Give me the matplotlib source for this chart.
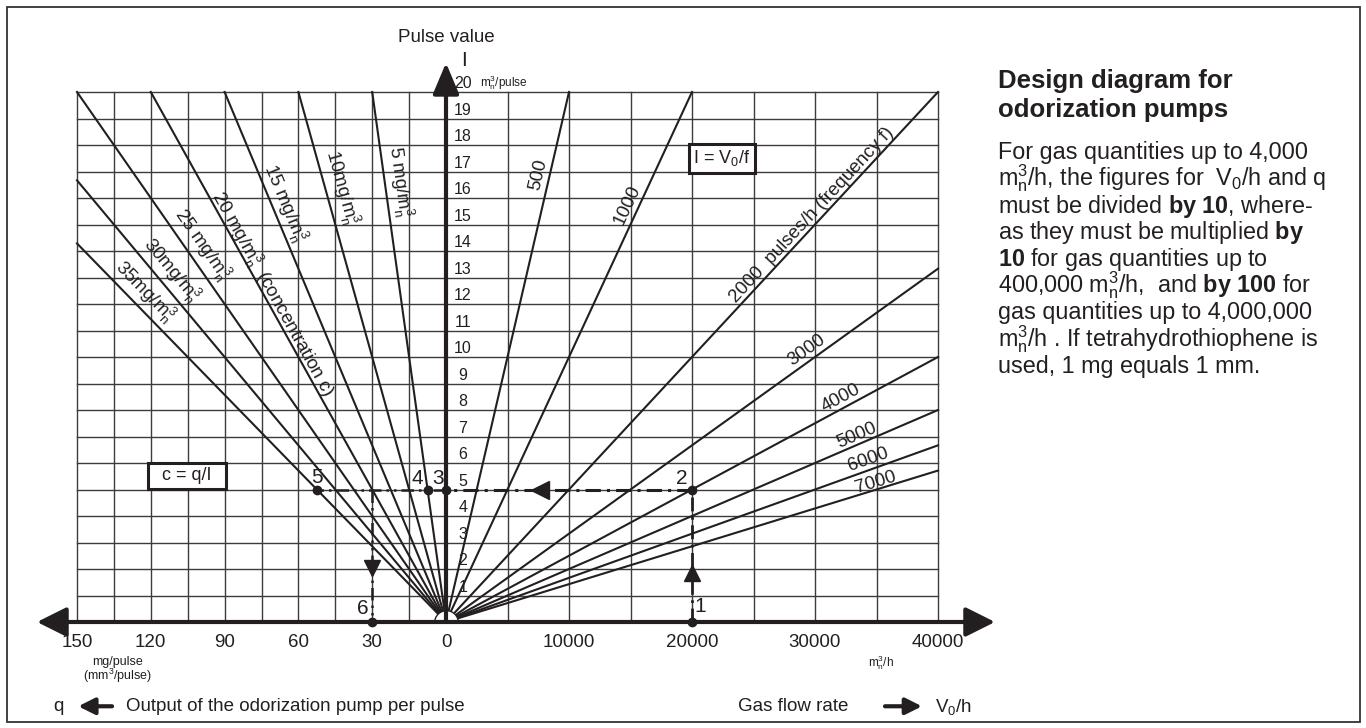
import numpy as np
import matplotlib.pyplot as plt
from matplotlib.path import Path
from matplotlib.patches import Rectangle

plt.rcParams['font.family'] = ['Liberation Sans', 'DejaVu Sans']
plt.rcParams['mathtext.fontset'] = 'custom'
plt.rcParams['mathtext.rm'] = 'Liberation Sans'
plt.rcParams['mathtext.it'] = 'Liberation Sans:italic'
plt.rcParams['mathtext.bf'] = 'Liberation Sans:bold'

INK = '#231f20'
GRID = '#3c3c3c'
M3N = r'm$_\mathrm{n}^\mathrm{3}$'

# concentration lines (left half): c in mg/m3n, q where line would reach I = 20
conc = [5, 10, 15, 20, 25, 30, 35]
q_at_top = [30, 60, 90, 120, 150, 180, 210]
conc_labels = ['5 mg/' + M3N, '10mg/' + M3N, '15 mg/' + M3N,
               '20 mg/' + M3N + '  (concentration c)', '25 mg/' + M3N,
               '30mg/' + M3N, '35mg/' + M3N]
conc_label_pos = [(-3821, 16.6), (-8537, 16.38), (-13171, 15.81), (-14146, 12.38),
                  (-19837, 14.23), (-22358, 13.28), (-24472, 12.45)]

# frequency lines (right half): I = V0 / f
freq = [500, 1000, 2000, 3000, 4000, 5000, 6000, 7000]
freq_labels = ['500', '1000', '2000  pulses/h (frequency f)', '3000', '4000',
               '5000', '6000', '7000']
freq_label_pos = [(7480, 16.87), (14715, 15.74), (29756, 15.36), (29350, 10.26),
                  (32114, 8.45), (33415, 7.02), (34309, 6.11), (34959, 5.25)]

q_ticks = [150, 120, 90, 60, 30]
v_ticks = [10000, 20000, 30000, 40000]
i_ticks = list(range(1, 21))

# worked example
ex_flow = 20000
ex_pulse = 5
ex_q4, ex_q5, ex_q6 = 7.5, 52.5, 30

Q_SCALE = 200          # 1 mg/pulse drawn as 200 m3/h on the shared x axis
Q_MAX, V_MAX, I_MAX = 150, 40000, 20


def qx(q):
    return -Q_SCALE * q


fig = plt.figure(figsize=(13.66, 7.28), dpi=100)
ax = fig.add_axes([0, 0, 1, 1])
ax.set_xlim(-446 / 12.3 * 1000, 920 / 12.3 * 1000)
ax.set_ylim(-106 / 26.5, 622 / 26.5)
ax.axis('off')

# frame
fig.patches.append(Rectangle((6.5 / 1366, 6.5 / 728), 1353 / 1366, 715 / 728,
                             transform=fig.transFigure, fill=False,
                             edgecolor='#333333', lw=1.3))

# grid
for i in range(1, I_MAX + 1):
    ax.plot([qx(Q_MAX), V_MAX], [i, i], color=GRID, lw=1.0, zorder=1)
for q in range(0, Q_MAX + 1, 15):
    ax.plot([qx(q), qx(q)], [0, I_MAX], color=GRID, lw=1.0, zorder=1)
for v in range(5000, V_MAX + 1, 5000):
    ax.plot([v, v], [0, I_MAX], color=GRID, lw=1.0, zorder=1)


def angle_of(x0, y0, x1, y1):
    p0 = ax.transData.transform((x0, y0))
    p1 = ax.transData.transform((x1, y1))
    return np.degrees(np.arctan2(p1[1] - p0[1], p1[0] - p0[0]))


# concentration lines
for c, qt, lab, (lx, ly) in zip(conc, q_at_top, conc_labels, conc_label_pos):
    t = min(1.0, Q_MAX / qt)
    xe, ye = qx(qt * t), I_MAX * t
    ax.plot([0, xe], [0, ye], color=INK, lw=1.5, zorder=2)
    rot = angle_of(xe, ye, 0, 0)
    ax.text(lx, ly, lab, rotation=rot, rotation_mode='anchor', ha='center',
            va='center', fontsize=13.5, color=INK)

# frequency lines
for f, lab, (lx, ly) in zip(freq, freq_labels, freq_label_pos):
    vt = I_MAX * f
    t = min(1.0, V_MAX / vt)
    xe, ye = vt * t, I_MAX * t
    ax.plot([0, xe], [0, ye], color=INK, lw=1.5, zorder=2)
    rot = angle_of(0, 0, xe, ye)
    ax.text(lx, ly, lab, rotation=rot, rotation_mode='anchor', ha='center',
            va='center', fontsize=13.5, color=INK)

# half disc at origin
ax.plot(0, 0, marker=Path.wedge(0, 180), ms=17, mfc='white', mec=INK, mew=1.0,
        zorder=4)

# main axes with arrows
ax.annotate('', xy=(-33252, 0), xytext=(44634, 0),
            arrowprops=dict(arrowstyle='<|-|>,head_length=0.9,head_width=0.45',
                            mutation_scale=20, lw=3, color=INK,
                            shrinkA=0, shrinkB=0), zorder=5)
ax.annotate('', xy=(0, 21.1), xytext=(0, 0),
            arrowprops=dict(arrowstyle='-|>,head_length=0.95,head_width=0.4',
                            mutation_scale=20, lw=3, color=INK,
                            shrinkA=0, shrinkB=0), zorder=5)

# tick labels
for i in i_ticks:
    ax.text(1380, i + 0.32, str(i), ha='center', va='center', fontsize=11.5,
            color=INK, zorder=6)
ax.text(2764, 20.34, M3N + '/pulse', ha='left', va='center', fontsize=8.5, color=INK)
for q in q_ticks:
    ax.text(qx(q), -0.79, str(q), ha='center', va='center', fontsize=13.5, color=INK)
ax.text(0, -0.79, '0', ha='center', va='center', fontsize=13.5, color=INK)
for v in v_ticks:
    ax.text(v, -0.79, str(v), ha='center', va='center', fontsize=13.5, color=INK)

ax.text(-26667, -1.5, 'mg/pulse', ha='center', va='center', fontsize=9, color=INK)
ax.text(-26667, -2.04, '(mm$^\\mathrm{3}$/pulse)', ha='center', va='center',
        fontsize=9, color=INK)
ax.text(35366, -1.55, M3N + '/h', ha='center', va='center', fontsize=8.5, color=INK)

ax.text(0, 22.05, 'Pulse value', ha='center', va='center', fontsize=13.5, color=INK)
ax.text(1463, 21.2, 'I', ha='center', va='center', fontsize=15, color=INK)

# formula boxes
ax.text(22439, 17.5, 'I = V$_\\mathrm{0}$/f', ha='center', va='center', fontsize=13,
        color=INK, bbox=dict(boxstyle='square,pad=0.25', fc='white', ec=INK, lw=2.2))
ax.text(-21057, 5.52, '  c = q/I  ', ha='center', va='center', fontsize=13,
        color=INK, bbox=dict(boxstyle='square,pad=0.25', fc='white', ec=INK, lw=2.2))

# worked example path 1 -> 2 -> 3 -> 4 -> 5, then down to 6
ax.plot([ex_flow, ex_flow], [0, ex_pulse], color=INK, lw=2,
        ls=(0, (5, 2, 1, 2)), zorder=3)
ax.plot([ex_flow, 0], [ex_pulse, ex_pulse], color=INK, lw=2.2,
        ls=(0, (5, 2, 1, 2)), zorder=3)
ax.plot([0, qx(ex_q5)], [ex_pulse, ex_pulse], color=INK, lw=1.8,
        ls=(0, (5, 2, 1, 2, 1, 2)), zorder=3)
ax.plot([qx(ex_q6), qx(ex_q6)], [ex_pulse, 0], color=INK, lw=1.8,
        ls=(0, (5, 2, 1, 2, 1, 2)), zorder=3)

ax.plot(ex_flow, 1.85, marker='^', ms=12, color=INK, zorder=4)
ax.plot(7640, ex_pulse, marker='<', ms=13, color=INK, zorder=4)
ax.plot(qx(ex_q6), 2.05, marker='v', ms=12, color=INK, zorder=4)

pts_x = [ex_flow, ex_flow, 0, qx(ex_q4), qx(ex_q5), qx(ex_q6)]
pts_y = [0, ex_pulse, ex_pulse, ex_pulse, ex_pulse, 0]
ax.plot(pts_x, pts_y, 'o', ms=6, color=INK, zorder=6)

pt_labels = ['1', '2', '3', '4', '5', '6']
pt_label_pos = [(20650, 0.57), (19150, 5.4), (-650, 5.4), (-2350, 5.4),
                (-10500, 5.45), (-6800, 0.5)]
for lab, (lx, ly) in zip(pt_labels, pt_label_pos):
    ax.text(lx, ly, lab, ha='center', va='center', fontsize=15, color=INK, zorder=6)

# bottom captions
ax.text(-31545, -3.2, 'q', ha='center', va='center', fontsize=13.5, color=INK)
ax.annotate('', xy=(-29900, -3.18), xytext=(-27150, -3.18),
            arrowprops=dict(arrowstyle='-|>,head_length=0.7,head_width=0.35',
                            mutation_scale=14, lw=3, color=INK, shrinkA=0, shrinkB=0))
ax.text(-26016, -3.2, 'Output of the odorization pump per pulse', ha='left',
        va='center', fontsize=13.5, color=INK)
ax.text(23740, -3.2, 'Gas flow rate', ha='left', va='center', fontsize=13.5, color=INK)
ax.annotate('', xy=(38700, -3.18), xytext=(35690, -3.18),
            arrowprops=dict(arrowstyle='-|>,head_length=0.7,head_width=0.35',
                            mutation_scale=14, lw=3, color=INK, shrinkA=0, shrinkB=0))
ax.text(39756, -3.2, 'V$_\\mathrm{0}$/h', ha='left', va='center', fontsize=13.5,
        color=INK)

# side panel
title_lines = ['Design diagram for', 'odorization pumps']
body_lines = [
    'For gas quantities up to 4,000',
    M3N + '/h, the figures for  V$_\\mathrm{0}$/h and q',
    'must be divided $\\mathbf{by\\ 10}$, where-',
    'as they must be multiplied $\\mathbf{by}$',
    '$\\mathbf{10}$ for gas quantities up to',
    '400,000 ' + M3N + '/h,  and $\\mathbf{by\\ 100}$ for',
    'gas quantities up to 4,000,000',
    M3N + '/h . If tetrahydrothiophene is',
    'used, 1 mg equals 1 mm.',
]
for k, line in enumerate(title_lines):
    fig.text(998 / 1366, 1 - (88 + 29 * k) / 728, line, fontsize=18.5,
             fontweight='bold', color=INK, va='baseline', ha='left')
for k, line in enumerate(body_lines):
    fig.text(998 / 1366, 1 - (159 + 26.75 * k) / 728, line, fontsize=16.8,
             color=INK, va='baseline', ha='left')

fig.savefig('out.png', dpi=100)
